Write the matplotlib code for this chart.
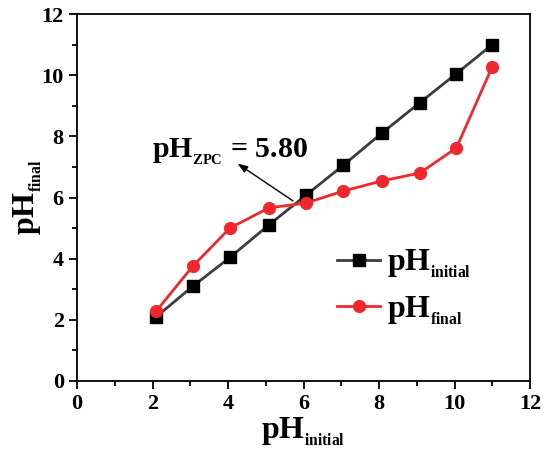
import matplotlib
matplotlib.use("Agg")
import matplotlib.pyplot as plt
from matplotlib.ticker import MultipleLocator

plt.rcParams['font.family'] = ['Liberation Serif', 'DejaVu Serif']
plt.rcParams['font.weight'] = 'bold'
plt.rcParams['mathtext.fontset'] = 'custom'
plt.rcParams['mathtext.rm'] = 'Liberation Serif:bold'
plt.rcParams['mathtext.bf'] = 'Liberation Serif:bold'
plt.rcParams['mathtext.it'] = 'Liberation Serif:bold'

ph_initial_x = [2.1, 3.07, 4.05, 5.08, 6.07, 7.05, 8.07, 9.08, 10.05, 11.0]
ph_initial_y = [2.1, 3.1, 4.04, 5.1, 6.08, 7.05, 8.1, 9.1, 10.05, 11.0]
ph_final_y = [2.29, 3.76, 5.0, 5.66, 5.82, 6.21, 6.54, 6.8, 7.62, 10.28]
ph_zpc = 5.80


def ph_label(sub):
    return r'$\mathrm{pH}_{{}_{\mathrm{%s}}}$' % sub


fig = plt.figure(figsize=(5.5, 4.55), dpi=100)
ax = fig.add_axes([77/550, 1-381/455, 453/550, 367/455])

ax.plot(ph_initial_x, ph_initial_y, color='#3c3c3c', lw=2.0, marker='s',
        markersize=8, markerfacecolor='black', markeredgecolor='black',
        label=ph_label('initial'))
ax.plot(ph_initial_x, ph_final_y, color='#f0282d', lw=2.0, marker='o',
        markersize=8.5, markerfacecolor='#f0282d', markeredgecolor='#f0282d',
        label=ph_label('final'))

ax.set_xlim(0, 12)
ax.set_ylim(0, 12)
ax.xaxis.set_major_locator(MultipleLocator(2))
ax.xaxis.set_minor_locator(MultipleLocator(1))
ax.yaxis.set_major_locator(MultipleLocator(2))
ax.yaxis.set_minor_locator(MultipleLocator(1))
ax.tick_params(which='major', direction='out', length=6, width=1.3, labelsize=16)
ax.tick_params(which='minor', direction='out', length=3.5, width=1.3)
for s in ax.spines.values():
    s.set_linewidth(1.3)
for lab in ax.get_xticklabels() + ax.get_yticklabels():
    lab.set_fontweight('bold')

ax.set_xlabel(ph_label('initial'), fontsize=23, labelpad=1)
ax.set_ylabel(ph_label('final'), fontsize=23, labelpad=-2)

ax.text(1.99, 7.29, ph_label('ZPC') + ' = %.2f' % ph_zpc,
        fontsize=21.5, fontweight='bold', ha='left', va='baseline')
ax.annotate('', xy=(4.19, 7.16), xytext=(5.78, 5.84),
            arrowprops=dict(arrowstyle='-|>,head_length=0.5,head_width=0.18',
                            color='black', lw=1.0, mutation_scale=12))

ax.legend(loc='lower right', bbox_to_anchor=(0.933, 0.07), frameon=False, fontsize=23,
          handlelength=1.35, handletextpad=0.2, labelspacing=0.42)

fig.savefig('out.png', dpi=100)
